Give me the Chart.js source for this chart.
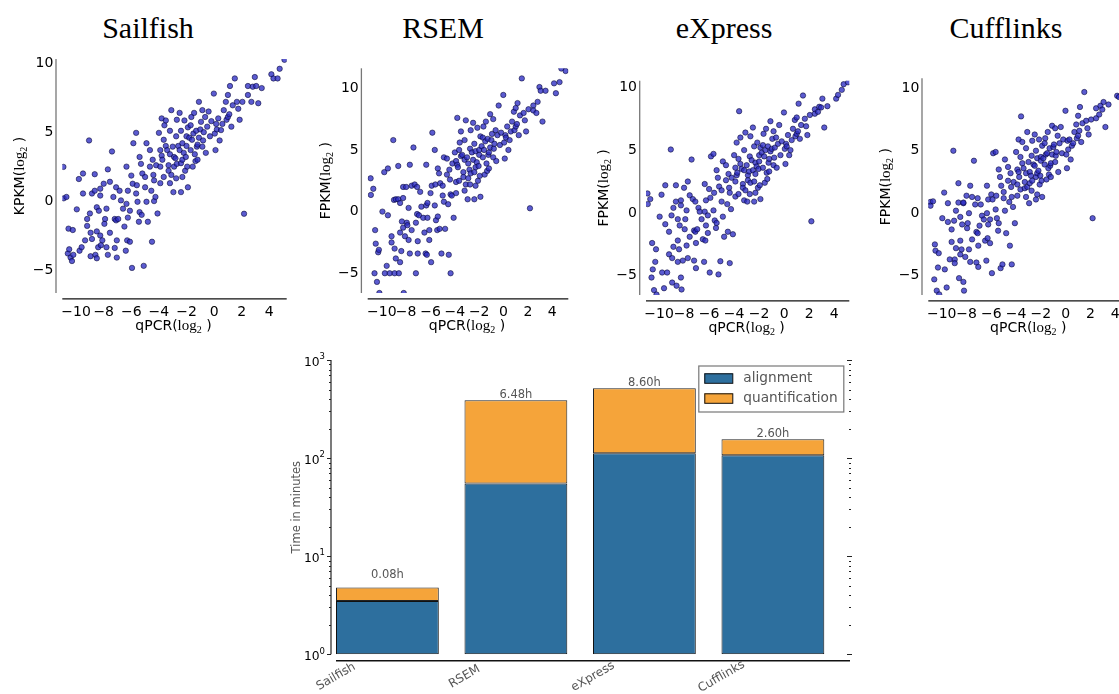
<!DOCTYPE html>
<html>
<head>
<meta charset="utf-8">
<script src="https://cdn.jsdelivr.net/npm/chart.js@4.4.0/dist/chart.umd.min.js"></script>
<style>
html, body { margin:0; padding:0; background:#fff; overflow:hidden; width:1119px; height:694px; }
canvas { position:absolute; }
.title { position:absolute; top:13px; width:200px; text-align:center; font:30px "Liberation Serif", serif; line-height:30px; color:#000; }
</style>
</head>
<body>
<div class="title" style="left:48px">Sailfish</div>
<div class="title" style="left:343px">RSEM</div>
<div class="title" style="left:624px">eXpress</div>
<div class="title" style="left:906px">Cufflinks</div>

<canvas id="sailfish" width="300" height="300" style="left:0px;top:40px"></canvas>
<canvas id="rsem" width="280" height="300" style="left:300px;top:40px"></canvas>
<canvas id="express" width="280" height="300" style="left:580px;top:40px"></canvas>
<canvas id="cufflinks" width="290" height="300" style="left:860px;top:40px"></canvas>
<canvas id="timing" width="590" height="349" style="left:280px;top:345px"></canvas>

<script>
// qPCR values (shared by the four methods), log2
const qpcr = [
  -10.92,-10.9,-10.7,-10.6,-10.55,-10.5,-10.4,-10.3,-10.24,-10.2,
  -9.95,-9.8,-9.75,-9.6,-9.5,-9.5,-9.35,-9.2,-9.2,-9.06,
  -9.0,-8.95,-8.95,-8.85,-8.85,-8.65,-8.65,-8.6,-8.5,-8.5,
  -8.5,-8.4,-8.35,-8.25,-8.25,-8.25,-8.2,-8.1,-8.0,-7.95,
  -7.9,-7.8,-7.8,-7.7,-7.7,-7.55,-7.55,-7.4,-7.3,-7.2,
  -7.2,-7.1,-7.1,-7.05,-7.05,-6.95,-6.85,-6.75,-6.6,-6.5,
  -6.4,-6.35,-6.35,-6.3,-6.25,-6.25,-6.1,-6.1,-6.0,-5.95,
  -5.9,-5.85,-5.65,-5.65,-5.6,-5.55,-5.45,-5.4,-5.4,-5.3,
  -5.25,-5.2,-5.1,-5.0,-5.0,-4.9,-4.9,-4.8,-4.65,-4.65,
  -4.55,-4.5,-4.45,-4.4,-4.35,-4.35,-4.25,-4.2,-4.1,-4.0,
  -3.9,-3.9,-3.9,-3.8,-3.8,-3.75,-3.65,-3.65,-3.6,-3.5,
  -3.5,-3.4,-3.3,-3.3,-3.2,-3.2,-3.2,-3.1,-3.1,-3.0,
  -2.95,-2.9,-2.9,-2.8,-2.75,-2.75,-2.7,-2.7,-2.6,-2.5,
  -2.5,-2.4,-2.4,-2.4,-2.3,-2.3,-2.3,-2.2,-2.15,-2.1,
  -2.05,-2.0,-2.0,-1.95,-1.9,-1.9,-1.8,-1.7,-1.7,-1.65,
  -1.6,-1.55,-1.5,-1.45,-1.4,-1.35,-1.3,-1.25,-1.2,-1.2,
  -1.1,-1.1,-1.0,-0.95,-0.85,-0.85,-0.8,-0.75,-0.65,-0.6,
  -0.5,-0.4,-0.3,-0.2,-0.02,0.05,0.1,0.15,0.2,0.3,
  0.4,0.5,0.6,0.7,0.85,0.9,1.0,1.0,1.1,1.15,
  1.25,1.35,1.5,1.65,1.75,1.85,2.05,2.17,2.45,2.45,
  2.7,2.8,2.95,3.05,3.2,3.45,4.15,4.3,4.6,4.75,5.1
];

const sailfishY = [
  2.48,0.2,0.3,-3.8,-2.0,-3.5,-4.1,-4.35,-2.1,-3.9,
  -0.6,1.6,-3.6,-3.35,2.0,0.55,-2.85,-1.3,-1.8,4.4,
  -0.9,-2.3,-4.0,-2.75,0.55,1.95,0.75,-3.9,-0.45,-4.15,
  -2.2,-3.35,-0.7,0.4,-2.5,0.9,-3.2,-2.85,1.26,-1.65,
  -1.3,-0.55,-3.35,2.3,-3.9,1.4,-2.3,3.6,0.3,-1.3,
  -3.4,-1.4,1.0,-4.1,-2.85,-1.3,0.75,0.05,-0.55,-1.85,
  -3.6,2.5,-0.2,-2.85,0.75,-1.2,-0.7,-2.95,1.85,-4.85,
  1.26,4.2,4.95,0.55,1.15,-0.05,-1.5,-0.8,3.2,2.7,
  -1.0,2.0,-4.7,1.75,1.0,4.2,-0.05,-1.5,2.5,3.7,
  0.75,-2.95,3.0,1.9,1.5,0.0,0.3,2.6,-0.9,4.95,
  3.7,2.5,1.3,6.0,3.3,3.0,4.45,1.75,5.5,5.85,
  4.0,3.7,2.6,2.2,5.1,1.3,3.4,6.6,1.9,3.95,
  0.65,3.2,2.5,3.1,4.7,1.65,5.9,2.7,4.0,6.4,
  3.7,5.1,2.75,0.65,4.2,1.75,3.0,3.5,5.85,2.2,
  3.2,4.7,4.0,2.5,5.35,1.0,4.6,3.7,5.5,6.1,
  4.45,2.5,4.9,6.4,3.4,2.9,5.1,3.95,3.0,4.1,
  7.2,4.6,5.2,5.75,6.6,3.95,4.4,5.0,6.1,3.5,
  5.4,6.5,4.7,5.8,7.8,4.9,3.7,5.6,5.2,6.0,
  4.4,5.15,5.6,6.6,7.2,5.9,6.1,7.7,6.3,8.35,
  5.4,6.95,8.9,7.2,6.7,5.9,7.2,-0.92,8.35,7.7,
  7.2,8.3,9.0,8.35,7.1,8.2,9.2,8.9,8.9,9.6,10.25
];

const rsemY = [
  2.7,1.35,1.85,-5.0,-1.5,-2.6,-5.7,-3.3,-3.1,-6.6,
  0.0,3.2,-5.0,-4.4,3.5,-0.3,-5.0,-2.5,-2.0,5.8,
  0.95,-3.0,-5.0,-3.8,1.0,3.7,1.0,-5.0,0.7,-4.1,
  -1.7,-3.2,-0.8,1.1,-1.3,2.0,-6.6,-2.0,2.0,-0.9,
  -1.1,0.3,-2.3,3.8,-3.4,2.1,-1.5,5.2,2.2,-0.9,
  -5.0,-0.2,2.0,-3.4,-2.4,-0.3,1.6,0.4,-0.5,-1.7,
  -3.4,3.8,0.5,-3.5,0.7,-0.5,-1.5,-2.3,1.5,-4.1,
  2.1,6.4,5.0,0.5,2.2,-0.7,-1.5,-0.4,3.5,3.1,
  -1.4,2.3,-3.4,2.1,1.3,4.4,0.8,-1.4,3.0,4.3,
  0.6,-3.5,3.4,2.6,1.4,-5.0,1.3,3.9,-0.5,4.8,
  4.1,2.4,1.5,7.6,3.8,3.6,5.0,2.5,5.6,6.5,
  4.5,4.6,3.2,2.8,5.8,1.7,4.2,7.4,2.2,4.4,
  1.0,3.9,2.7,3.4,5.1,2.2,6.6,3.1,4.8,7.2,
  4.2,5.5,3.2,1.0,4.9,2.1,3.6,4.0,6.8,2.5,
  3.7,5.0,4.6,2.9,6.1,1.2,5.3,4.4,6.0,6.9,
  5.0,3.0,5.7,7.3,3.9,3.3,5.9,4.6,3.5,4.8,
  7.9,5.2,5.8,6.3,7.5,4.4,5.1,5.5,6.6,4.1,
  6.2,8.6,5.4,6.4,9.46,5.6,4.3,6.2,6.0,6.9,
  5.0,5.8,6.5,7.3,8.1,6.6,6.9,8.4,7.1,8.8,
  6.2,7.8,10.8,8.0,7.4,6.5,8.3,0.27,8.6,8.2,
  8.0,8.9,10.1,9.8,7.3,9.8,10.4,9.6,10.5,11.6,11.4
];

const expressY = [
  1.55,0.7,1.1,-5.15,-2.4,-4.5,-6.15,-3.9,-2.9,-6.5,
  -0.3,1.45,-4.75,-6.0,2.2,-0.9,-4.75,-1.5,-3.3,5.05,
  -0.2,-3.6,-5.55,-2.7,0.4,2.2,0.9,-5.8,-0.5,-3.9,
  -2.2,-2.9,-1.0,0.6,-5.15,1.0,-6.1,-3.8,2.0,-1.3,
  -0.5,0.2,-2.6,2.5,-3.6,1.4,-1.9,4.25,1.1,-1.4,
  -3.8,-1.5,0.9,-4.4,-2.4,-1.3,0.4,0.1,-0.5,-2.1,
  -3.9,2.3,0.1,-2.2,1.0,-1.0,-0.2,-1.6,1.9,-4.75,
  1.2,4.5,4.7,0.2,1.6,-0.6,-1.2,-0.8,3.4,2.8,
  -4.9,2.1,-3.85,1.8,0.9,4.1,-0.3,-1.9,2.6,3.8,
  0.7,-1.5,3.1,2.0,1.6,-4.0,0.3,2.8,-1.7,4.6,
  3.6,2.5,1.3,5.6,3.0,3.2,4.3,1.5,8.1,6.0,
  3.9,3.5,2.3,2.0,5.0,1.0,3.4,6.4,1.8,3.8,
  0.9,3.0,2.6,3.3,4.5,1.5,6.1,2.4,4.2,6.8,
  3.4,5.3,2.5,0.9,4.0,1.6,3.1,3.7,5.6,2.0,
  3.5,4.6,4.1,2.2,5.2,1.1,4.8,3.6,5.4,6.3,
  4.5,2.4,5.0,6.7,3.2,2.7,5.3,4.0,3.3,4.3,
  7.3,4.9,5.1,5.9,6.5,3.8,4.4,5.2,6.0,3.6,
  5.5,7.0,4.6,5.7,8.0,5.1,3.9,5.5,5.3,6.2,
  4.6,5.0,5.8,6.7,7.4,6.1,6.3,7.6,6.5,8.7,
  5.9,7.0,9.35,7.5,6.9,6.2,7.8,-0.67,8.25,7.9,
  8.05,8.45,8.4,9.1,6.8,8.5,9.1,9.4,9.8,10.25,10.4
];

const cufflinksY = [
  0.9,0.6,0.95,-5.3,-2.5,-3.0,-6.2,-4.35,-3.2,-6.5,
  -0.4,1.65,-4.5,-5.95,0.8,-0.7,-3.7,-1.3,-2.3,5.0,
  -0.6,-3.7,-4.0,-2.8,0.2,2.4,0.85,-5.2,-0.3,-3.3,
  -2.2,-2.9,-0.9,0.8,-5.5,0.85,-6.2,-3.5,1.4,-1.2,
  -0.8,0.0,-2.9,2.2,-3.9,1.3,-2.1,4.2,0.7,-1.5,
  -3.95,-1.6,1.2,-4.3,-2.6,-1.0,0.7,-0.2,-0.5,-2.2,
  -3.8,2.2,0.0,-2.0,1.1,-0.9,-0.5,-2.4,1.5,-4.8,
  1.1,4.8,4.9,0.3,1.4,-0.4,-1.4,-0.8,3.5,2.9,
  -4.4,2.2,-4.1,1.7,1.2,4.3,0.2,-1.6,2.6,3.7,
  0.9,-2.6,3.2,2.1,1.3,-4.1,0.5,2.5,-0.8,4.9,
  3.5,2.3,1.4,5.9,3.3,2.9,4.5,1.9,7.75,5.7,
  4.0,3.6,2.5,2.0,5.2,1.3,3.2,6.5,2.1,4.1,
  0.8,3.3,2.4,3.0,4.6,1.8,5.8,2.6,3.9,6.3,
  3.8,5.0,2.9,1.1,4.4,1.5,3.2,3.4,5.9,2.3,
  3.0,4.5,4.2,2.6,5.4,1.3,4.4,3.9,5.6,6.0,
  4.7,2.7,4.8,6.5,3.6,3.1,5.2,3.8,2.9,4.0,
  7.0,4.7,5.3,5.5,6.8,4.1,4.6,4.9,6.2,3.3,
  5.6,6.9,4.8,5.9,8.2,4.7,3.6,5.8,5.1,5.9,
  4.3,5.4,5.6,6.5,7.1,6.0,6.2,7.8,6.6,8.5,
  5.7,7.2,9.7,7.4,6.8,6.3,7.5,-0.4,8.4,7.6,
  7.9,8.6,8.3,8.9,6.9,8.7,9.4,9.3,9.5,9.8,10.3
];

const xTicks = [-10, -8, -6, -4, -2, 0, 2, 4];
const yTicks = [-5, 0, 5, 10];

// timing chart (minutes)
const tools = ['Sailfish', 'RSEM', 'eXpress', 'Cufflinks'];
const alignment = [3.5, 55, 112, 107];
const quantification = [1.3, 333.8, 404, 49];
const hoursLabels = ['0.08h', '6.48h', '8.60h', '2.60h'];
const logTicks = [1, 10, 100, 1000];
const logTickExp = ['0', '1', '2', '3'];
const logMinor = [2,3,4,5,6,7,8,9,20,30,40,50,60,70,80,90,200,300,400,500,600,700,800,900];

const SANS = '"DejaVu Sans", sans-serif';
const SERIF = '"Liberation Serif", serif';

function drawMixed(ctx, parts, x, y, angle) {
  ctx.save();
  ctx.translate(x, y);
  ctx.rotate(angle || 0);
  let w = 0;
  parts.forEach(p => { ctx.font = p.font; p.w = ctx.measureText(p.text).width; w += p.w; });
  let cx = -w / 2;
  ctx.textAlign = 'left';
  ctx.textBaseline = 'alphabetic';
  ctx.fillStyle = '#000';
  parts.forEach(p => { ctx.font = p.font; ctx.fillText(p.text, cx, 5 + (p.dy || 0)); cx += p.w; });
  ctx.restore();
}

function logParts(name) {
  return [
    { text: name + '(', font: '14px ' + SANS },
    { text: 'log', font: '15px ' + SERIF },
    { text: '2', font: '10px ' + SERIF, dy: 3 },
    { text: ' )', font: '14px ' + SANS }
  ];
}

const scatterDeco = {
  id: 'scatterDeco',
  afterDraw(chart, args, opts) {
    const { ctx, chartArea: a } = chart;
    ctx.save();
    ctx.lineWidth = 1.3;
    ctx.strokeStyle = '#777';
    ctx.beginPath();
    ctx.moveTo(a.left - 6.3, a.top);
    ctx.lineTo(a.left - 6.3, a.bottom);
    ctx.stroke();
    ctx.strokeStyle = '#111';
    ctx.beginPath();
    ctx.moveTo(a.left, a.bottom + 5.8);
    ctx.lineTo(a.right, a.bottom + 5.8);
    ctx.stroke();
    ctx.restore();
    drawMixed(ctx, logParts('qPCR'), (a.left + a.right) / 2 - 1, a.bottom + 32);
    drawMixed(ctx, logParts(opts.yName), a.left - 43, (a.top + a.bottom) / 2, -Math.PI / 2);
  }
};

function fmt(v) {
  return (v < 0 ? '\u2212' : '') + Math.abs(v);
}

function scatterChart(id, ys, yName, g) {
  const pts = qpcr.map((x, i) => ({ x: x, y: ys[i] }));
  return new Chart(document.getElementById(id), {
    type: 'scatter',
    data: {
      datasets: [{
        data: pts,
        pointRadius: 2.7,
        pointBackgroundColor: 'rgba(45,45,195,0.78)',
        pointBorderColor: 'rgba(0,0,45,0.9)',
        pointBorderWidth: 0.6
      }]
    },
    options: {
      responsive: false,
      animation: false,
      devicePixelRatio: 1,
      layout: { padding: { left: 0, top: g.pt, right: g.pr, bottom: 0 } },
      plugins: { legend: { display: false }, tooltip: { enabled: false }, scatterDeco: { yName: yName } },
      scales: {
        x: {
          type: 'linear', min: g.x[0], max: g.x[1],
          grid: { display: false, drawTicks: false },
          border: { display: false },
          afterBuildTicks: s => { s.ticks = xTicks.map(v => ({ value: v })); },
          afterFit: s => { s.height = g.xh; },
          ticks: { padding: 11, color: '#000', font: { family: SANS, size: 14 }, callback: fmt, maxRotation: 0, autoSkip: false }
        },
        y: {
          type: 'linear', min: g.y[0], max: g.y[1],
          grid: { display: false, drawTicks: false },
          border: { display: false },
          afterBuildTicks: s => { s.ticks = yTicks.map(v => ({ value: v })); },
          afterFit: s => { s.width = g.yw; },
          ticks: { padding: 9, color: '#000', font: { family: SANS, size: 14 }, callback: fmt, autoSkip: false }
        }
      }
    },
    plugins: [scatterDeco]
  });
}

scatterChart('sailfish', sailfishY, 'KPKM', { x: [-11, 5.26], y: [-6.67, 10.31], yw: 62.3, pt: 19, pr: 13.3, xh: 47 });
scatterChart('rsem', rsemY, 'FPKM', { x: [-11.16, 5.32], y: [-6.6, 11.62], yw: 67.7, pt: 28.3, pr: 11.7, xh: 47 });
scatterChart('express', expressY, 'FPKM', { x: [-11.04, 5.2], y: [-6.54, 10.53], yw: 66, pt: 40.7, pr: 10.7, xh: 45 });
scatterChart('cufflinks', cufflinksY, 'FPKM', { x: [-11.08, 5.2], y: [-6.55, 10.8], yw: 68.3, pt: 38.3, pr: 19.8, xh: 45 });

// timing bar chart
const barDeco = {
  id: 'barDeco',
  afterDraw(chart) {
    const { ctx, chartArea: a, scales } = chart;
    const xs = scales.x, ys = scales.y;
    ctx.save();
    // left spine and ticks
    const sx = a.left - 5;
    ctx.strokeStyle = '#222';
    ctx.lineWidth = 1.2;
    ctx.beginPath();
    ctx.moveTo(sx, a.top);
    ctx.lineTo(sx, a.bottom);
    ctx.stroke();
    ctx.lineWidth = 1;
    logTicks.forEach(v => {
      const y = Math.round(ys.getPixelForValue(v)) + 0.5;
      ctx.beginPath(); ctx.moveTo(sx - 4, y); ctx.lineTo(sx, y); ctx.stroke();
      ctx.beginPath(); ctx.moveTo(a.right - 3, y); ctx.lineTo(a.right + 2, y); ctx.stroke();
    });
    logMinor.forEach(v => {
      const y = Math.round(ys.getPixelForValue(v)) + 0.5;
      ctx.beginPath(); ctx.moveTo(sx - 2, y); ctx.lineTo(sx, y); ctx.stroke();
      ctx.beginPath(); ctx.moveTo(a.right - 1, y); ctx.lineTo(a.right + 1, y); ctx.stroke();
    });
    // bottom spine
    ctx.strokeStyle = '#111';
    ctx.lineWidth = 1.5;
    ctx.beginPath();
    ctx.moveTo(a.left, a.bottom + 6.4);
    ctx.lineTo(a.right, a.bottom + 6.4);
    ctx.stroke();

    // y tick labels 10^n
    ctx.fillStyle = '#000';
    ctx.textBaseline = 'middle';
    ctx.textAlign = 'right';
    logTicks.forEach((v, i) => {
      const y = ys.getPixelForValue(v);
      ctx.font = '8.5px ' + SANS;
      const ew = ctx.measureText(logTickExp[i]).width;
      ctx.fillText(logTickExp[i], a.left - 11, y - 3);
      ctx.font = '12.3px ' + SANS;
      ctx.fillText('10', a.left - 11 - ew, y + 3);
    });

    // category labels
    ctx.fillStyle = '#555';
    ctx.font = '12px ' + SANS;
    ctx.textAlign = 'center';
    tools.forEach((t, i) => {
      ctx.save();
      ctx.translate(xs.getPixelForValue(i), a.bottom + 22.4);
      ctx.rotate(-Math.PI / 6);
      ctx.fillText(t, 0, 0);
      ctx.restore();
    });

    // y title
    ctx.save();
    ctx.translate(a.left - 39.3, (a.top + a.bottom) / 2);
    ctx.rotate(-Math.PI / 2);
    ctx.font = '11.5px ' + SANS;
    ctx.fillText('Time in minutes', 0, 0);
    ctx.restore();

    // hour labels above the bars
    ctx.font = '11.5px ' + SANS;
    ctx.textBaseline = 'bottom';
    tools.forEach((t, i) => {
      const top = alignment[i] + quantification[i] + 1;
      ctx.fillText(hoursLabels[i], xs.getPixelForValue(i + 0.4), ys.getPixelForValue(top) + 1);
    });

    // legend
    const lx = a.right - 151.7, ly = a.top + 5.5, lw = 145, lh = 46;
    ctx.fillStyle = 'rgba(255,255,255,0.9)';
    ctx.fillRect(lx, ly, lw, lh);
    ctx.strokeStyle = '#777';
    ctx.lineWidth = 1.2;
    ctx.strokeRect(lx + 0.5, ly + 0.5, lw, lh);
    const colors = chart.data.datasets.map(d => d.backgroundColor);
    const names = chart.data.datasets.map(d => d.label);
    names.forEach((n, i) => {
      const cy = ly + 12.8 + i * 20;
      ctx.fillStyle = colors[i];
      ctx.fillRect(lx + 6, cy - 5, 28.5, 10);
      ctx.strokeStyle = '#111';
      ctx.lineWidth = 1;
      ctx.strokeRect(lx + 6.5, cy - 4.5, 28, 9.5);
      ctx.fillStyle = '#555';
      ctx.font = '13.7px ' + SANS;
      ctx.textAlign = 'left';
      ctx.textBaseline = 'middle';
      ctx.fillText(n, lx + 45, cy);
    });
    ctx.restore();
  }
};

new Chart(document.getElementById('timing'), {
  type: 'bar',
  data: {
    datasets: [
      {
        label: 'alignment',
        data: tools.map((t, i) => ({ x: i + 0.4, y: alignment[i] })),
        backgroundColor: '#2D6F9E',
        borderColor: '#111',
        borderWidth: 1,
        borderSkipped: false
      },
      {
        label: 'quantification',
        data: tools.map((t, i) => ({ x: i + 0.4, y: quantification[i] })),
        backgroundColor: '#F5A43A',
        borderColor: '#222',
        borderWidth: 1,
        borderSkipped: false
      }
    ]
  },
  options: {
    responsive: false,
    animation: false,
    devicePixelRatio: 1,
    categoryPercentage: 1,
    barPercentage: 0.8,
    layout: { padding: { left: 0, top: 15, right: 20, bottom: 0 } },
    plugins: { legend: { display: false }, tooltip: { enabled: false } },
    scales: {
      x: {
        type: 'linear', min: 0, max: 4, stacked: true, offset: false,
        grid: { display: false, drawTicks: false },
        border: { display: false },
        ticks: { display: false },
        afterBuildTicks: s => { s.ticks = [0, 1, 2, 3, 4].map(v => ({ value: v })); },
        afterFit: s => { s.height = 39.7; }
      },
      y: {
        type: 'logarithmic', min: 1, max: 1000, stacked: true,
        grid: { display: false, drawTicks: false },
        border: { display: false },
        ticks: { display: false },
        afterFit: s => { s.width = 56; }
      }
    }
  },
  plugins: [barDeco]
});
</script>
</body>
</html>
